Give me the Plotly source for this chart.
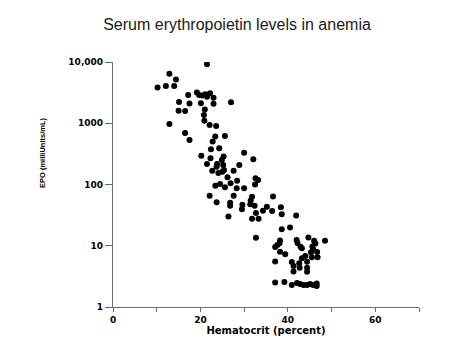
import plotly.graph_objects as go

# Hematocrit (percent)
hematocrit = [
    21.5, 12.9, 14.4, 10.2, 12.1, 14.0, 17.2, 19.2, 19.7, 21.1, 22.2, 21.5, 23.0, 20.4,
    27.0, 15.1, 17.5, 20.1, 23.0, 15.0, 16.5, 21.0, 20.8, 20.9, 22.1, 23.6, 12.9, 16.5,
    17.5, 23.4, 25.6, 22.8, 22.4, 24.3, 20.2, 25.3, 24.9, 30.0, 22.3, 32.1, 21.5, 23.8,
    25.2, 28.9, 23.7, 22.7, 24.1, 25.0, 25.4, 27.6, 26.2, 32.6, 33.2, 28.4, 23.4, 24.5,
    26.9, 25.6, 28.3, 30.0, 32.5, 22.1, 27.6, 31.8, 31.5, 36.6, 23.7, 26.8, 26.8, 29.6,
    31.4, 32.4, 29.5, 35.2, 36.4, 38.4, 32.7, 26.4, 31.8, 33.3, 38.6, 41.9, 34.3,
    40.5, 38.6, 32.7, 38.2, 38.1, 42.0, 42.2, 44.7, 46.0, 46.3, 48.5, 37.1, 37.6, 42.9,
    43.2, 45.6, 45.8, 45.3, 46.7, 38.2, 39.4, 44.0, 43.2, 45.5, 46.8, 37.1, 40.9, 42.6,
    44.4, 41.3, 42.7, 44.4, 41.3, 44.4, 37.1, 39.2, 40.9, 42.1, 42.8, 43.6, 44.4, 45.1,
    45.8, 46.6, 46.6,
]
# EPO (milliUnits/mL)
epo = [
    9200, 6400, 5200, 3840, 4060, 4060, 2890, 3180, 2890, 2970, 3080, 2720, 2610, 2840,
    2200, 2220, 2100, 2120, 2090, 1600, 1590, 1670, 1360, 1100, 936, 902, 972, 696,
    533, 610, 619, 504, 376, 390, 295, 286, 251, 331, 268, 258, 216, 216,
    208, 208, 195, 168, 154, 162, 173, 168, 131, 126, 118, 115, 95.6, 102,
    105, 90, 86.7, 86.7, 100, 65.4, 65.4, 63.2, 54.8, 63.7, 51.2, 50.5, 44.9, 46.8,
    47.5, 45.1, 39.5, 43.4, 36.9, 42.4, 34.3, 30.0, 27.7, 27.7, 32.6, 31.2, 37.3,
    19.9, 18.6, 13.5, 12.2, 11.0, 12.4, 11.1, 13.6, 12.1, 10.9, 12.1, 9.5, 10.3, 9.65,
    9.1, 9.7, 8.7, 7.8, 7.9, 8.0, 7.25, 6.8, 6.24, 6.48, 6.48, 5.53, 5.43, 5.17,
    5.49, 4.67, 4.38, 4.38, 3.80, 3.77, 2.51, 2.56, 2.29, 2.47, 2.37, 2.29, 2.29, 2.37,
    2.29, 2.42, 2.20,
]

x_tickvals = [0, 10, 20, 30, 40, 50, 60, 70]
x_ticktext = ["0", "", "20", "", "40", "", "60", ""]
y_tickvals = [1, 10, 100, 1000, 10000]
y_ticktext = ["1", "10", "100", "1000", "10,000"]

fig = go.Figure()
fig.add_trace(go.Scatter(
    x=hematocrit, y=epo, mode="markers",
    marker=dict(color="black", size=6, line=dict(width=0)),
    showlegend=False, hoverinfo="skip",
))

tick_font = dict(family="DejaVu Sans", size=9, color="black", weight="bold")

fig.update_layout(
    width=474, height=355,
    margin=dict(l=113, r=55, t=62, b=48, pad=0),
    paper_bgcolor="white", plot_bgcolor="white",
    title=dict(
        text="Serum erythropoietin levels in anemia",
        x=0.5, xref="container", xanchor="center",
        y=1 - 24 / 355, yref="container", yanchor="middle",
        font=dict(family="Liberation Sans", size=16, color="#1a1a1a"),
    ),
    xaxis=dict(
        range=[0, 70], tickvals=x_tickvals, ticktext=x_ticktext,
        showgrid=False, zeroline=False, showline=True, linecolor="#6a6a6a", linewidth=1.2,
        ticks="outside", ticklen=4, tickcolor="#6a6a6a", tickwidth=1.2,
        tickfont=tick_font,
        title=dict(text="Hematocrit (percent)", standoff=3,
                   font=dict(family="DejaVu Sans", size=10, color="black", weight="bold")),
    ),
    yaxis=dict(
        type="log", range=[0, 4], tickvals=y_tickvals, ticktext=y_ticktext,
        showgrid=False, zeroline=False, showline=True, linecolor="#6a6a6a", linewidth=1.2,
        ticks="outside", ticklen=7, tickcolor="#6a6a6a", tickwidth=1.2,
        tickfont=tick_font,
    ),
    annotations=[dict(
        text="EPO (milliUnits/mL)", textangle=-90,
        xref="paper", yref="paper",
        x=-(113 - 42) / 306, y=(307 - 153) / 245,
        xanchor="center", yanchor="middle", showarrow=False,
        font=dict(family="Liberation Sans", size=7.5, color="black", weight="bold"),
    )],
)

fig.write_html("out.html")
